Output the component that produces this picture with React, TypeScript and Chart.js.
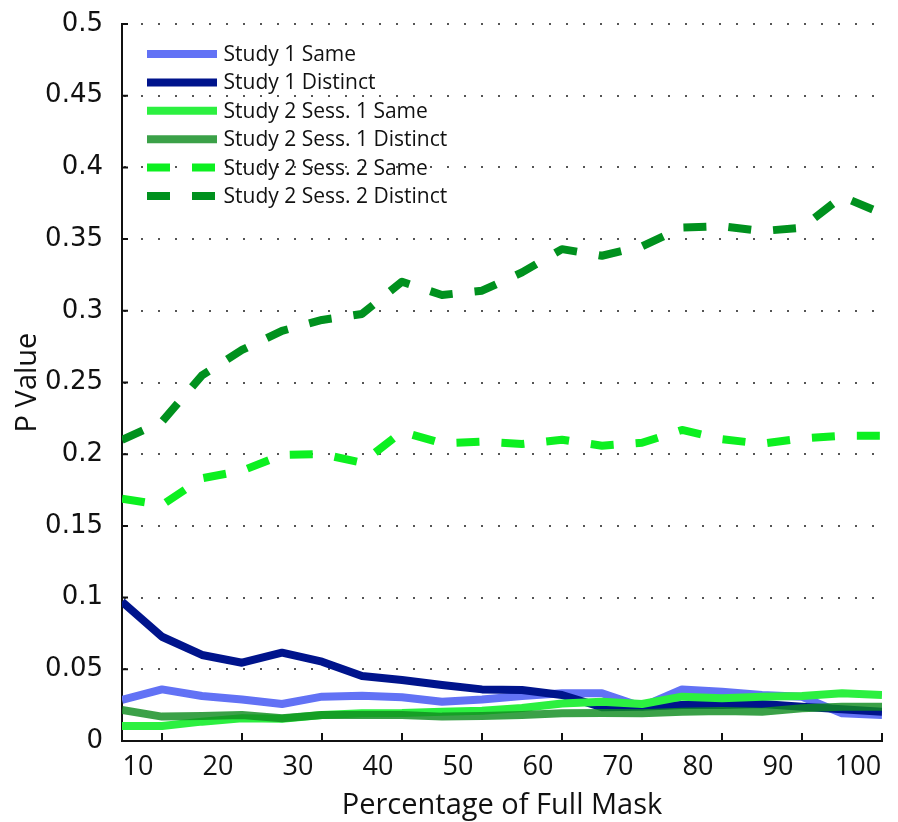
import React, { useEffect, useRef } from "react";
import { Chart, registerables } from "chart.js";

Chart.register(...registerables);

const xValues = [5, 10, 15, 20, 25, 30, 35, 40, 45, 50, 55, 60, 65, 70, 75, 80, 85, 90, 95, 100];
const xTicks = [10, 20, 30, 40, 50, 60, 70, 80, 90, 100];
const yTicks = [0, 0.05, 0.1, 0.15, 0.2, 0.25, 0.3, 0.35, 0.4, 0.45, 0.5];
const yTickLabels = ["0", "0.05", "0.1", "0.15", "0.2", "0.25", "0.3", "0.35", "0.4", "0.45", "0.5"];

const seriesNames = [
  "Study 1 Same",
  "Study 1 Distinct",
  "Study 2 Sess. 1 Same",
  "Study 2 Sess. 1 Distinct",
  "Study 2 Sess. 2 Same",
  "Study 2 Sess. 2 Distinct",
];

const study1Same = [0.0286, 0.036, 0.0314, 0.029, 0.0258, 0.0309, 0.0316, 0.0305, 0.0274, 0.029, 0.0314, 0.0333, 0.0333, 0.0239, 0.036, 0.0344, 0.0321, 0.0309, 0.0193, 0.0181];
const study1Distinct = [0.0971, 0.0727, 0.06, 0.0546, 0.0616, 0.0553, 0.0453, 0.0425, 0.039, 0.036, 0.0356, 0.0321, 0.0235, 0.0239, 0.0251, 0.0251, 0.0258, 0.0239, 0.0221, 0.0204];
const study2Sess1Same = [0.0105, 0.0105, 0.0135, 0.0158, 0.0155, 0.0181, 0.0193, 0.0195, 0.0204, 0.0211, 0.023, 0.0262, 0.0274, 0.0258, 0.0309, 0.0298, 0.0309, 0.0314, 0.0333, 0.0321];
const study2Sess1Distinct = [0.0216, 0.017, 0.0174, 0.0181, 0.0158, 0.0181, 0.0181, 0.0181, 0.017, 0.0174, 0.0181, 0.0193, 0.0195, 0.0193, 0.0204, 0.021, 0.0204, 0.0228, 0.0239, 0.0239];
const study2Sess2Same = [0.169, 0.1646, 0.1832, 0.1885, 0.1994, 0.2001, 0.194, 0.2157, 0.2076, 0.2087, 0.2071, 0.2101, 0.2059, 0.208, 0.2169, 0.2104, 0.2073, 0.211, 0.2129, 0.2129];
const study2Sess2Distinct = [0.21, 0.2227, 0.255, 0.2727, 0.286, 0.2936, 0.2978, 0.3203, 0.311, 0.314, 0.3268, 0.343, 0.3384, 0.345, 0.358, 0.359, 0.3556, 0.358, 0.3796, 0.368];

const seriesValues = [study1Same, study1Distinct, study2Sess1Same, study2Sess1Distinct, study2Sess2Same, study2Sess2Distinct];
const seriesColors = [
  "rgb(98,114,245)",
  "rgb(0,20,140)",
  "rgb(44,240,64)",
  "rgba(16,140,32,0.82)",
  "rgb(12,240,32)",
  "rgb(0,145,30)",
];
const seriesDash: number[][] = [[], [], [], [], [23, 22], [23, 22]];

const FONT = '"Open Sans", "DejaVu Sans", sans-serif';
const YFONT = '"DejaVu Sans", sans-serif';

const overlayPlugin = {
  id: "overlay",
  afterDraw(chart: any) {
    const { ctx, chartArea, scales } = chart;
    ctx.save();
    ctx.setLineDash([]);
    ctx.strokeStyle = "#111";
    ctx.lineWidth = 2;
    ctx.lineCap = "butt";
    ctx.beginPath();
    scales.y.ticks.forEach((t: any) => {
      const y = scales.y.getPixelForValue(t.value);
      ctx.moveTo(chartArea.left, y);
      ctx.lineTo(chartArea.left + 6, y);
    });
    scales.x.ticks.forEach((t: any) => {
      const x = scales.x.getPixelForValue(t.value);
      ctx.moveTo(x, chartArea.bottom);
      ctx.lineTo(x, chartArea.bottom - 8);
    });
    ctx.stroke();

    chart.data.datasets.forEach((ds: any, i: number) => {
      const y = chartArea.top + 30 + i * 28.4;
      const x0 = chartArea.left + 25;
      ctx.strokeStyle = ds.borderColor;
      ctx.lineWidth = 8;
      ctx.setLineDash(ds.borderDash || []);
      ctx.beginPath();
      ctx.moveTo(x0, y);
      ctx.lineTo(x0 + 70, y);
      ctx.stroke();
      ctx.setLineDash([]);
      ctx.fillStyle = "#111";
      ctx.font = `21px ${FONT}`;
      ctx.textBaseline = "middle";
      ctx.textAlign = "left";
      ctx.fillText(ds.label, x0 + 76.5, y + 1);
    });
    ctx.restore();
  },
};

export default function App() {
  const canvasRef = useRef<HTMLCanvasElement | null>(null);

  useEffect(() => {
    let chart: Chart | null = null;
    let cancelled = false;
    const create = () => {
      if (cancelled || !canvasRef.current) return;
      chart = new Chart(canvasRef.current, {
        type: "line",
        data: {
          datasets: seriesNames.map((name, i) => ({
            label: name,
            data: xValues.map((x, j) => ({ x, y: seriesValues[i][j] })),
            borderColor: seriesColors[i],
            backgroundColor: seriesColors[i],
            borderWidth: 8,
            borderDash: seriesDash[i],
            borderCapStyle: "butt",
            borderJoinStyle: "round",
            pointRadius: 0,
            tension: 0,
            fill: false,
            order: 10 - i,
          })),
        },
        options: {
          responsive: false,
          animation: false,
          devicePixelRatio: 1,
          layout: { padding: { top: 24, right: 16, left: 0, bottom: 0 } },
          plugins: { legend: { display: false }, tooltip: { enabled: false } },
          scales: {
            x: {
              type: "linear",
              min: 5,
              max: 100,
              afterBuildTicks: (s: any) => {
                s.ticks = xTicks.map((v) => ({ value: v }));
              },
              afterFit: (s: any) => {
                s.height = 81;
                s.paddingLeft = 0;
                s.paddingRight = 0;
              },
              grid: { display: false, drawTicks: false },
              border: { display: true, color: "#111", width: 2 },
              ticks: {
                color: "#111",
                font: { family: FONT, size: 27 },
                padding: 10,
                labelOffset: -24,
                maxRotation: 0,
                autoSkip: false,
                callback: (v: any) => String(v),
              },
              title: {
                display: true,
                text: "Percentage of Full Mask",
                color: "#111",
                font: { family: FONT, size: 29 },
                padding: { top: 0, bottom: -1 },
              },
            },
            y: {
              type: "linear",
              min: 0,
              max: 0.5,
              afterBuildTicks: (s: any) => {
                s.ticks = yTicks.map((v) => ({ value: v }));
              },
              afterFit: (s: any) => {
                s.width = 122;
                s.paddingTop = 0;
                s.paddingBottom = 0;
              },
              grid: {
                display: true,
                drawTicks: false,
                color: (c: any) => (c.tick && c.tick.value === 0 ? "rgba(0,0,0,0)" : "#555"),
                lineWidth: 2,
              },
              border: { display: true, color: "#111", width: 2, dash: [2, 15], dashOffset: -1 },
              ticks: {
                color: "#111",
                font: { family: YFONT, size: 26 },
                padding: 19,
                autoSkip: false,
                callback: (_v: any, idx: number) => yTickLabels[idx],
              },
              title: {
                display: true,
                text: "P Value",
                color: "#111",
                font: { family: FONT, size: 29 },
                padding: { top: 10, bottom: 0 },
              },
            },
          },
        } as any,
        plugins: [overlayPlugin],
      });
    };
    if ((document as any).fonts && (document as any).fonts.load) {
      Promise.all([
        (document as any).fonts.load(`26px "Open Sans"`),
        (document as any).fonts.load(`26px "DejaVu Sans"`),
      ]).then(create, create);
    } else {
      create();
    }
    return () => {
      cancelled = true;
      if (chart) chart.destroy();
    };
  }, []);

  return (
    <div style={{ position: "fixed", left: 0, top: 0, width: 898, height: 822, background: "#fff" }}>
      <canvas ref={canvasRef} width={898} height={822} style={{ width: 898, height: 822, display: "block" }} />
    </div>
  );
}
